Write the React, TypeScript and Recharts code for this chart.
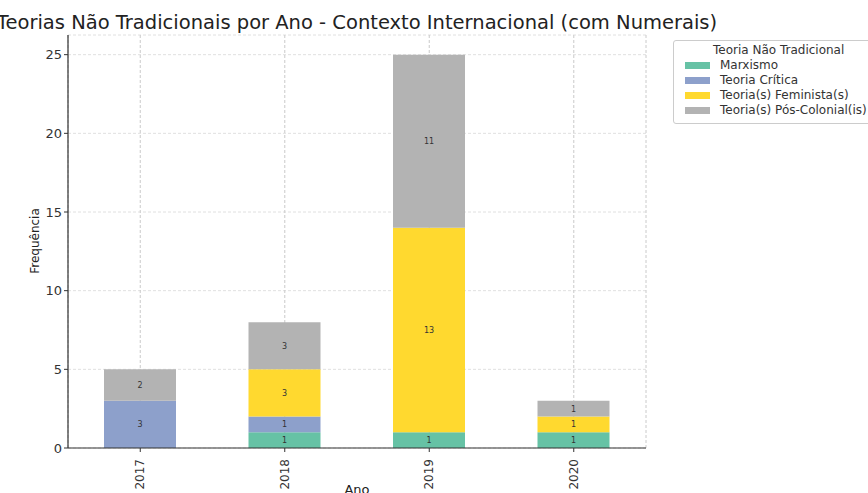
import React from "react";
import {
  BarChart,
  Bar,
  XAxis,
  YAxis,
  CartesianGrid,
  LabelList,
  Customized,
} from "recharts";

const anos = ["2017", "2018", "2019", "2020"];
const marxismo = [0, 1, 1, 1];
const teoriaCritica = [3, 1, 0, 0];
const feminista = [0, 3, 13, 1];
const posColonial = [2, 3, 11, 1];
const yTicks = [0, 5, 10, 15, 20, 25];

const series = [
  { key: "marxismo", name: "Marxismo", color: "#66c2a5" },
  { key: "critica", name: "Teoria Crítica", color: "#8da0cb" },
  { key: "feminista", name: "Teoria(s) Feminista(s)", color: "#ffd92f" },
  { key: "poscolonial", name: "Teoria(s) Pós-Colonial(is)", color: "#b3b3b3" },
];

const data = anos.map((ano, i) => ({
  ano,
  marxismo: marxismo[i],
  critica: teoriaCritica[i],
  feminista: feminista[i],
  poscolonial: posColonial[i],
}));

const FONT = "DejaVu Sans, sans-serif";

const XTick = (props: any) => {
  const { x, y, payload } = props;
  return (
    <g transform={`translate(${x},${y + 5})`}>
      <text
        transform="rotate(-90)"
        textAnchor="end"
        dominantBaseline="central"
        fontSize={12}
        fontFamily={FONT}
        fill="#333"
      >
        {payload.value}
      </text>
    </g>
  );
};

const LegendBox = () => (
  <div
    style={{
      position: "absolute",
      left: 673,
      top: 40,
      border: "1px solid #ccc",
      borderRadius: 3,
      background: "#fff",
      padding: "2px 6px 5px 11px",
      fontFamily: FONT,
      fontSize: 12,
      color: "#333",
      whiteSpace: "nowrap",
      width: 220,
    }}
  >
    <div style={{ lineHeight: "15px", paddingLeft: 28 }}>
      Teoria Não Tradicional
    </div>
    {series.map((s) => (
      <div key={s.key} style={{ display: "flex", alignItems: "center", lineHeight: "15px" }}>
        <span
          style={{
            display: "inline-block",
            width: 25,
            height: 7,
            background: s.color,
            marginRight: 10,
          }}
        />
        {s.name}
      </div>
    ))}
  </div>
);

const Titles = () => (
  <g fontFamily={FONT} fill="#222">
    <text x={357} y={29} textAnchor="middle" fontSize={19.5}>
      Teorias Não Tradicionais por Ano - Contexto Internacional (com Numerais)
    </text>
    <text x={357} y={494} textAnchor="middle" fontSize={13}>
      Ano
    </text>
    <text
      transform="translate(39,241) rotate(-90)"
      textAnchor="middle"
      fontSize={12}
    >
      Frequência
    </text>
  </g>
);

const hideZero = (v: any) => (v ? v : "");

export default function App() {
  return (
    <div
      style={{
        position: "absolute",
        left: 0,
        top: 0,
        width: 868,
        height: 493,
        overflow: "hidden",
        background: "#fff",
      }}
    >
      <BarChart
        width={868}
        height={493}
        data={data}
        margin={{ top: 35, right: 222, left: 0, bottom: 0 }}
      >
        <CartesianGrid stroke="#e0e0e0" strokeDasharray="3 2" />
        <XAxis
          dataKey="ano"
          height={45}
          tick={<XTick />}
          tickSize={4}
          axisLine={{ stroke: "#333", strokeWidth: 1.2 }}
          tickLine={{ stroke: "#333" }}
          interval={0}
        />
        <YAxis
          width={68}
          domain={[0, 26.25]}
          ticks={yTicks}
          tickSize={4}
          tick={{ fontSize: 13, fontFamily: FONT, fill: "#333" }}
          axisLine={{ stroke: "#333", strokeWidth: 1.2 }}
          tickLine={{ stroke: "#333" }}
        />
        {series.map((s) => (
          <Bar
            key={s.key}
            dataKey={s.key}
            name={s.name}
            stackId="a"
            fill={s.color}
            barSize={72}
            isAnimationActive={false}
          >
            <LabelList
              dataKey={s.key}
              position="center"
              formatter={hideZero}
              style={{ fontSize: 8, fontFamily: FONT, fill: "#333" }}
            />
          </Bar>
        ))}
        <CartesianGrid
          horizontal={false}
          stroke="#999"
          strokeOpacity={0.25}
          strokeDasharray="3 2"
        />
        <Customized component={<Titles />} />
      </BarChart>
      <LegendBox />
    </div>
  );
}
